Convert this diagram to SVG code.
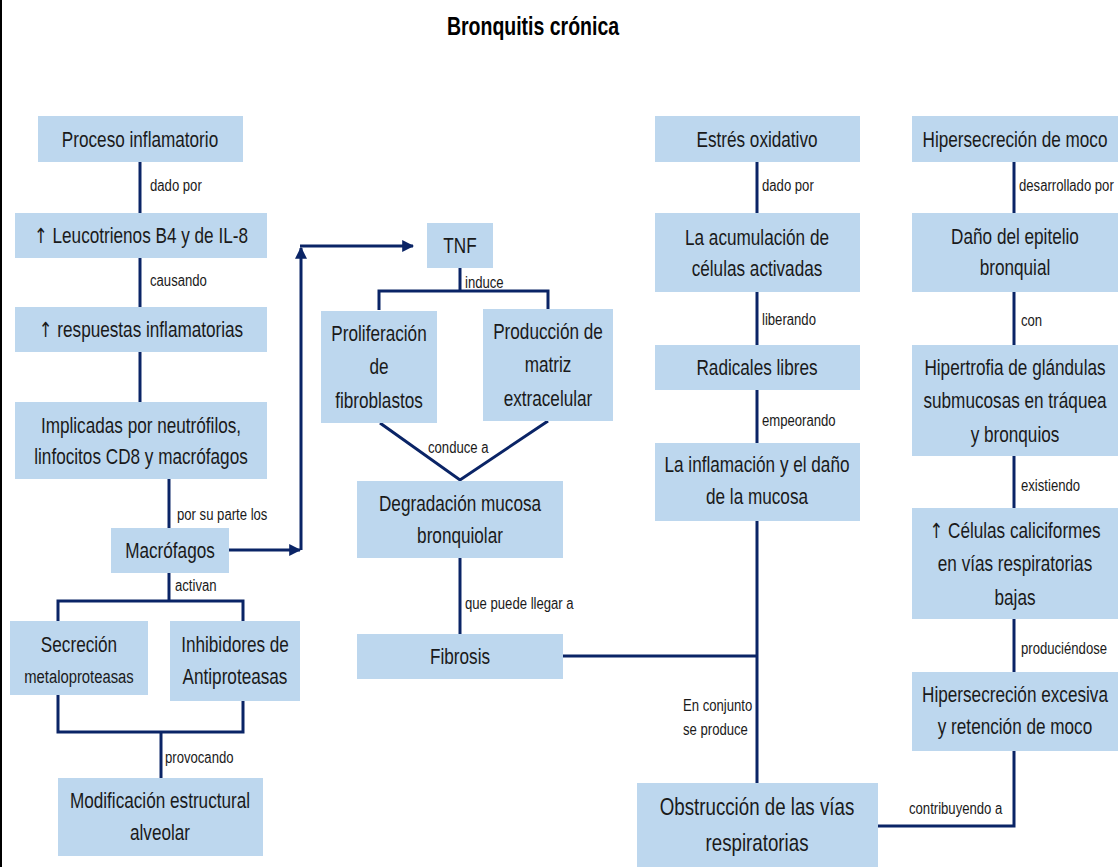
<svg xmlns="http://www.w3.org/2000/svg" width="1118" height="867" viewBox="0 0 1118 867">
<style>
.box{fill:#BDD7EE}
.t{font-family:"Liberation Sans",Arial,sans-serif;font-size:22px;fill:#1a1a1a;text-anchor:middle}
.l{font-family:"Liberation Sans",Arial,sans-serif;font-size:16px;fill:#1a1a1a}
.c{stroke:#0A2466;stroke-width:3;fill:none}
.ar{font-family:"DejaVu Sans",sans-serif;font-size:21px}
</style>
<defs>
<marker id="ah" viewBox="0 0 10 10" refX="9" refY="5" markerWidth="4" markerHeight="4" orient="auto" markerUnits="strokeWidth">
<path d="M0,0 L10,5 L0,10 Z" fill="#0A2466"/>
</marker>
</defs>
<rect width="1118" height="867" fill="#ffffff"/>
<rect x="0" y="0" width="2" height="867" fill="#000"/>
<text transform="translate(533 35) scale(0.78 1)" style="font-family:'Liberation Sans',Arial,sans-serif;font-size:25px;font-weight:bold;fill:#000;text-anchor:middle">Bronquitis crónica</text>

<g id="connectors">
<line class="c" x1="140" y1="161" x2="140" y2="213"/>
<line class="c" x1="140" y1="258" x2="140" y2="307"/>
<line class="c" x1="140" y1="352" x2="140" y2="402"/>
<line class="c" x1="169" y1="479" x2="169" y2="528"/>
<line class="c" x1="229" y1="550" x2="300" y2="550" marker-end="url(#ah)"/>
<line class="c" x1="301" y1="550" x2="301" y2="248" marker-end="url(#ah)"/>
<line class="c" x1="300" y1="246" x2="413" y2="246" marker-end="url(#ah)"/>
<polyline class="c" points="169,573 169,601"/>
<polyline class="c" points="58,621 58,601 243,601 243,621"/>
<polyline class="c" points="58,695 58,732 243,732 243,701"/>
<line class="c" x1="161" y1="732" x2="161" y2="778"/>
<line class="c" x1="460" y1="268" x2="460" y2="291"/>
<polyline class="c" points="379,310 379,291 548,291 548,309"/>
<polyline class="c" points="380,423 460,480 548,421"/>
<line class="c" x1="460" y1="558" x2="460" y2="634"/>
<line class="c" x1="562" y1="656" x2="757" y2="656"/>
<line class="c" x1="757" y1="161" x2="757" y2="213"/>
<line class="c" x1="757" y1="292" x2="757" y2="345"/>
<line class="c" x1="757" y1="390" x2="757" y2="443"/>
<line class="c" x1="757" y1="521" x2="757" y2="783"/>
<line class="c" x1="1014" y1="161" x2="1014" y2="213"/>
<line class="c" x1="1014" y1="292" x2="1014" y2="345"/>
<line class="c" x1="1014" y1="456" x2="1014" y2="508"/>
<line class="c" x1="1014" y1="619" x2="1014" y2="672"/>
<polyline class="c" points="1014,751 1014,826 878,826"/>
<text class="l" transform="translate(150 191) scale(0.82 1)">dado por</text>
<text class="l" transform="translate(150 286) scale(0.82 1)">causando</text>
<text class="l" transform="translate(177 520) scale(0.82 1)">por su parte los</text>
<text class="l" transform="translate(175 591) scale(0.82 1)">activan</text>
<text class="l" transform="translate(165 763) scale(0.82 1)">provocando</text>
<text class="l" transform="translate(465 288) scale(0.82 1)">induce</text>
<text class="l" transform="translate(428 453) scale(0.82 1)">conduce a</text>
<text class="l" transform="translate(465 609) scale(0.82 1)">que puede llegar a</text>
<text class="l" transform="translate(762 191) scale(0.82 1)">dado por</text>
<text class="l" transform="translate(762 325) scale(0.82 1)">liberando</text>
<text class="l" transform="translate(762 426) scale(0.82 1)">empeorando</text>
<text class="l" transform="translate(683 711) scale(0.82 1)">En conjunto</text>
<text class="l" transform="translate(683 735) scale(0.82 1)">se produce</text>
<text class="l" transform="translate(1019 191) scale(0.82 1)">desarrollado por</text>
<text class="l" transform="translate(1021 326) scale(0.82 1)">con</text>
<text class="l" transform="translate(1021 491) scale(0.82 1)">existiendo</text>
<text class="l" transform="translate(1021 654) scale(0.82 1)">produciéndose</text>
<text class="l" transform="translate(909 814) scale(0.82 1)">contribuyendo a</text>
</g>

<g id="n-proceso"><rect class="box" x="38" y="116" width="205" height="46"/><text class="t" transform="translate(140 147) scale(0.78 1)">Proceso inflamatorio</text></g>
<g id="n-leuco"><rect class="box" x="15" y="213" width="252" height="45"/><text class="t" transform="translate(141 243) scale(0.78 1)"><tspan class="ar">↑</tspan> Leucotrienos B4 y de IL-8</text></g>
<g id="n-resp"><rect class="box" x="15" y="307" width="252" height="45"/><text class="t" transform="translate(141 337) scale(0.78 1)"><tspan class="ar">↑</tspan> respuestas inflamatorias</text></g>
<g id="n-impl"><rect class="box" x="15" y="402" width="252" height="77"/><text class="t" transform="translate(141 433) scale(0.78 1)">Implicadas por neutrófilos,</text><text class="t" transform="translate(141 464) scale(0.78 1)">linfocitos CD8 y macrófagos</text></g>
<g id="n-macro"><rect class="box" x="111" y="528" width="118" height="45"/><text class="t" transform="translate(170 558) scale(0.78 1)">Macrófagos</text></g>
<g id="n-secr"><rect class="box" x="10" y="621" width="138" height="74"/><text class="t" transform="translate(79 652) scale(0.78 1)">Secreción</text><text class="t" transform="translate(79 683) scale(0.78 1)" style="font-size:19px">metaloproteasas</text></g>
<g id="n-inhib"><rect class="box" x="170" y="621" width="130" height="80"/><text class="t" transform="translate(235 652) scale(0.78 1)">Inhibidores de</text><text class="t" transform="translate(235 684) scale(0.78 1)">Antiproteasas</text></g>
<g id="n-modif"><rect class="box" x="58" y="778" width="205" height="78"/><text class="t" transform="translate(160 808) scale(0.78 1)">Modificación estructural</text><text class="t" transform="translate(160 840) scale(0.78 1)">alveolar</text></g>
<g id="n-tnf"><rect class="box" x="427" y="223" width="66" height="45"/><text class="t" transform="translate(460 253) scale(0.78 1)">TNF</text></g>
<g id="n-prolif"><rect class="box" x="321" y="311" width="116" height="112"/><text class="t" transform="translate(379 341) scale(0.78 1)">Proliferación</text><text class="t" transform="translate(379 374) scale(0.78 1)">de</text><text class="t" transform="translate(379 408) scale(0.78 1)">fibroblastos</text></g>
<g id="n-prod"><rect class="box" x="483" y="309" width="130" height="112"/><text class="t" transform="translate(548 339) scale(0.78 1)">Producción de</text><text class="t" transform="translate(548 372) scale(0.78 1)">matriz</text><text class="t" transform="translate(548 406) scale(0.78 1)">extracelular</text></g>
<g id="n-degr"><rect class="box" x="357" y="481" width="206" height="77"/><text class="t" transform="translate(460 511) scale(0.78 1)">Degradación mucosa</text><text class="t" transform="translate(460 543) scale(0.78 1)">bronquiolar</text></g>
<g id="n-fibro"><rect class="box" x="357" y="634" width="206" height="45"/><text class="t" transform="translate(460 664) scale(0.78 1)">Fibrosis</text></g>
<g id="n-estres"><rect class="box" x="655" y="116" width="205" height="46"/><text class="t" transform="translate(757 147) scale(0.78 1)">Estrés oxidativo</text></g>
<g id="n-acum"><rect class="box" x="655" y="213" width="205" height="79"/><text class="t" transform="translate(757 245) scale(0.78 1)">La acumulación de</text><text class="t" transform="translate(757 276) scale(0.78 1)">células activadas</text></g>
<g id="n-radic"><rect class="box" x="655" y="345" width="205" height="45"/><text class="t" transform="translate(757 375) scale(0.78 1)">Radicales libres</text></g>
<g id="n-inflam"><rect class="box" x="655" y="443" width="205" height="78"/><text class="t" transform="translate(757 472) scale(0.78 1)">La inflamación y el daño</text><text class="t" transform="translate(757 504) scale(0.78 1)">de la mucosa</text></g>
<g id="n-obstr"><rect class="box" x="637" y="783" width="241" height="84"/><text class="t" transform="translate(757 815) scale(0.78 1)" style="font-size:24px">Obstrucción de las vías</text><text class="t" transform="translate(757 851) scale(0.78 1)" style="font-size:24px">respiratorias</text></g>
<g id="n-hiper"><rect class="box" x="912" y="116" width="206" height="46"/><text class="t" transform="translate(1015 147) scale(0.78 1)">Hipersecreción de moco</text></g>
<g id="n-dano"><rect class="box" x="912" y="213" width="206" height="79"/><text class="t" transform="translate(1015 244) scale(0.78 1)">Daño del epitelio</text><text class="t" transform="translate(1015 275) scale(0.78 1)">bronquial</text></g>
<g id="n-hipert"><rect class="box" x="912" y="345" width="206" height="111"/><text class="t" transform="translate(1015 375) scale(0.78 1)">Hipertrofia de glándulas</text><text class="t" transform="translate(1015 408) scale(0.78 1)">submucosas en tráquea</text><text class="t" transform="translate(1015 442) scale(0.78 1)">y bronquios</text></g>
<g id="n-calic"><rect class="box" x="912" y="508" width="206" height="111"/><text class="t" transform="translate(1015 538) scale(0.78 1)"><tspan class="ar">↑</tspan> Células caliciformes</text><text class="t" transform="translate(1015 571) scale(0.78 1)">en vías respiratorias</text><text class="t" transform="translate(1015 605) scale(0.78 1)">bajas</text></g>
<g id="n-excesiva"><rect class="box" x="912" y="672" width="206" height="79"/><text class="t" transform="translate(1015 702) scale(0.78 1)">Hipersecreción excesiva</text><text class="t" transform="translate(1015 734) scale(0.78 1)">y retención de moco</text></g>
</svg>
